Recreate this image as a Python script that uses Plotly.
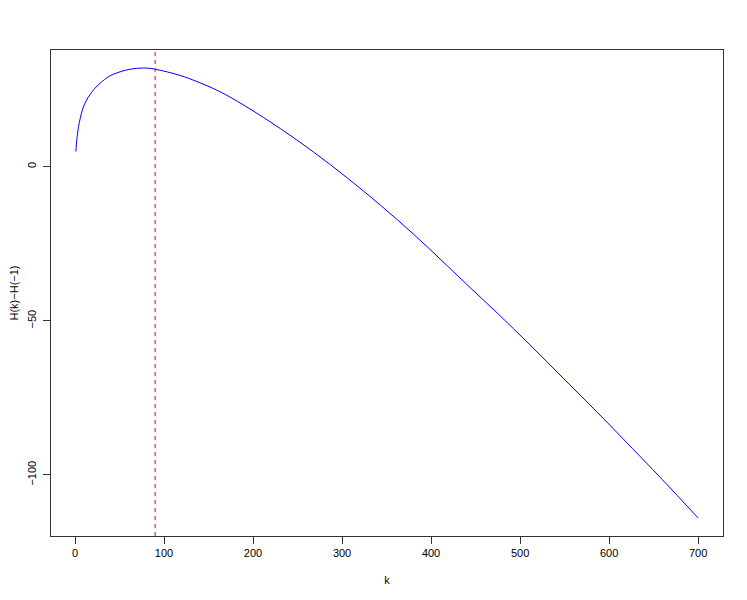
import plotly.graph_objects as go

# Values
k_values = [1, 2, 4, 6, 9, 13, 17, 22, 28, 39, 51, 62, 77, 90, 118, 137, 155, 174, 212,
            249, 287, 324, 362, 399, 436, 474, 511, 549, 586, 616, 660, 700]
h_values = [4.9, 8.6, 13.0, 15.8, 19.0, 21.6, 23.4, 25.3, 27.0, 29.4, 30.8, 31.6,
            32.0, 31.6, 29.6, 27.6, 25.4, 22.6, 15.9, 8.7, 0.6, -7.9, -17.2, -26.9,
            -37.1, -47.4, -57.8, -68.8, -79.5, -88.4, -101.6, -114.0]
k_marker = 90
x_ticks = [0, 100, 200, 300, 400, 500, 600, 700]
y_ticks = [0, -50, -100]

font = dict(family="Liberation Sans, Arial, sans-serif", size=11, color="black")

fig = go.Figure()
fig.add_trace(go.Scatter(x=k_values, y=h_values, mode="lines",
                         line=dict(color="#0000FF", width=1, shape="spline", smoothing=1.0),
                         showlegend=False, hoverinfo="skip"))
fig.add_vline(x=k_marker, line=dict(color="#FF0000", width=1, dash="4px,4px"))

xmin, xmax = min(k_values), max(k_values)
ymin, ymax = min(h_values), max(h_values)
xpad = 0.04 * (xmax - xmin)
ypad = 0.04 * (ymax - ymin)

axis_common = dict(showgrid=False, zeroline=False, showline=True, mirror=True,
                   linecolor="#333333", linewidth=1, ticks="outside", ticklen=7,
                   tickwidth=1, tickcolor="#333333", tickfont=font, automargin=False)

# page body has an 8px default margin, so offsets are compensated here
fig.update_layout(
    width=747, height=600,
    paper_bgcolor="white", plot_bgcolor="white",
    margin=dict(l=43, r=32, t=42, b=72),
    font=font,
    xaxis=dict(range=[xmin - xpad, xmax + xpad], tickvals=x_ticks,
               title=dict(text="k", font=font, standoff=18), **axis_common),
    yaxis=dict(range=[ymin - ypad, ymax + ypad], tickvals=y_ticks, tickangle=-90,
               ticklabelstandoff=3,
               title=dict(text="H(k)−H(−1)", font=font, standoff=16), **axis_common),
)

fig.write_html("out.html")
